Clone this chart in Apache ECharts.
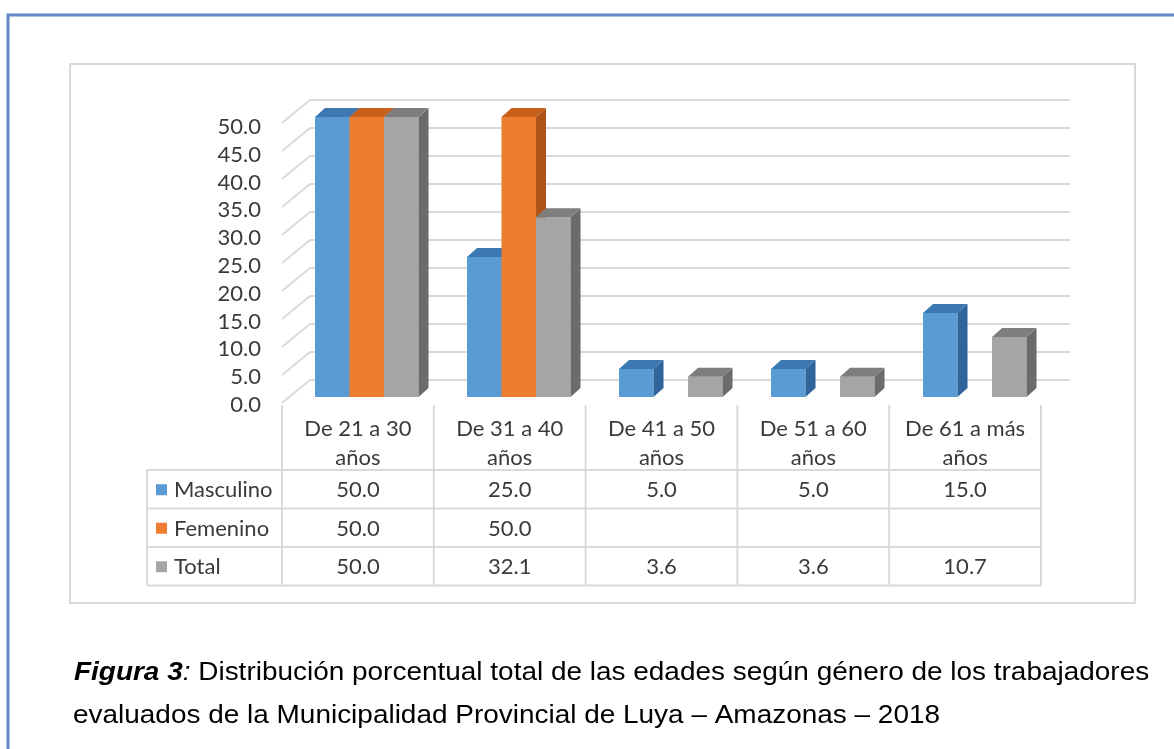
<!DOCTYPE html>
<html><head><meta charset="utf-8">
<script src="https://cdn.jsdelivr.net/npm/echarts@6/dist/echarts.min.js"></script>
<style>html,body{margin:0;padding:0;background:#fff;} #chart{width:1174px;height:749px;}</style>
</head><body><div id="chart"></div>
<script>
const categories = ['De 21 a 30\naños', 'De 31 a 40\naños', 'De 41 a 50\naños', 'De 51 a 60\naños', 'De 61 a más\naños'];
const seriesNames = ['Masculino', 'Femenino', 'Total'];
const masculino = [50.0, 25.0, 5.0, 5.0, 15.0];
const femenino = [50.0, 50.0, null, null, null];
const total = [50.0, 32.1, 3.6, 3.6, 10.7];
const yMin = 0, yMax = 50, yStep = 5;
const yTicks = [0, 5, 10, 15, 20, 25, 30, 35, 40, 45, 50];
const captionLead = 'Figura 3';
const captionLine1 = ' Distribución porcentual total de las edades según género de los trabajadores';
const captionLine2 = 'evaluados de la Municipalidad Provincial de Luya – Amazonas – 2018';

const seriesValues = [masculino, femenino, total];
const colors = [
  {front: '#5b9bd5', top: '#3d78b3', side: '#31659a'},
  {front: '#ed7d31', top: '#c85f1a', side: '#ad5219'},
  {front: '#a5a5a5', top: '#7e7e7e', side: '#6b6b6b'}
];
const FONT = 'Lato';
const FS = 22;
const TXT = '#3a3a3a';
const LINE = '#d9d9d9';
const DEPTH_X = 28, DEPTH_Y = 23;
const BAR_DX = 10, BAR_DY = 9;

function barItem(k) {
  return function (params, api) {
    const i = api.value(0), v = api.value(1);
    if (v == null || isNaN(v)) return null;
    const base = api.coord([i, 0]);
    const top = api.coord([i, v]);
    const band = api.size([1, 0])[0];
    const w = band * 0.227;
    const x = base[0] - band * 0.467 + k * w;
    const yB = base[1] + 17, yT = top[1] + 17;
    const c = colors[k];
    return {type: 'group', children: [
      {type: 'rect', shape: {x: x, y: yT, width: w, height: yB - yT}, style: {fill: c.front}},
      {type: 'polygon', shape: {points: [[x + w, yT], [x + w + BAR_DX, yT - BAR_DY], [x + w + BAR_DX, yB - BAR_DY], [x + w, yB]]}, style: {fill: c.side}},
      {type: 'polygon', shape: {points: [[x, yT], [x + w, yT], [x + w + BAR_DX, yT - BAR_DY], [x + BAR_DX, yT - BAR_DY]]}, style: {fill: c.top}}
    ]};
  };
}

function wallItem(params, api) {
  const y = api.coord([0, api.value(1)])[1];
  const x0 = params.coordSys.x;
  return {type: 'line', shape: {x1: x0 - DEPTH_X, y1: y + DEPTH_Y, x2: x0, y2: y},
    style: {stroke: LINE, lineWidth: 2}};
}

function tableItem(params, api) {
  const i = api.value(0);
  const p = api.coord([i, 0]);
  const band = api.size([1, 0])[0];
  const xl = p[0] - band / 2, xr = p[0] + band / 2;
  const y0 = p[1];
  const rows = [y0 + 65, y0 + 103.5, y0 + 142, y0 + 180.5];
  const ls = {stroke: LINE, lineWidth: 2};
  const ch = [];
  ch.push({type: 'line', shape: {x1: xl, y1: y0, x2: xl, y2: rows[3]}, style: ls});
  if (i === categories.length - 1) ch.push({type: 'line', shape: {x1: xr, y1: y0, x2: xr, y2: rows[3]}, style: ls});
  rows.forEach(function (r) { ch.push({type: 'line', shape: {x1: xl, y1: r, x2: xr, y2: r}, style: ls}); });
  seriesValues.forEach(function (arr, k) {
    const v = arr[i];
    if (v != null) ch.push({type: 'text', style: {text: v.toFixed(1), x: p[0], y: (rows[k] + rows[k + 1]) / 2 + 1,
      align: 'center', verticalAlign: 'middle', fontFamily: FONT, fontSize: FS, fill: TXT}});
  });
  if (i === 0) {
    const xL = xl - 135;
    ch.push({type: 'line', shape: {x1: xL, y1: rows[0], x2: xL, y2: rows[3]}, style: ls});
    rows.forEach(function (r) { ch.push({type: 'line', shape: {x1: xL, y1: r, x2: xl, y2: r}, style: ls}); });
    seriesNames.forEach(function (n, k) {
      const cy = (rows[k] + rows[k + 1]) / 2;
      ch.push({type: 'rect', shape: {x: xL + 9, y: cy - 5, width: 11, height: 11}, style: {fill: colors[k].front}});
      ch.push({type: 'text', style: {text: n, x: xL + 27, y: cy + 1, align: 'left', verticalAlign: 'middle',
        fontFamily: FONT, fontSize: FS, fill: TXT}});
    });
  }
  return {type: 'group', children: ch};
}

const chart = echarts.init(document.getElementById('chart'), null, {renderer: 'canvas'});
const option = {
  animation: false,
  backgroundColor: '#ffffff',
  grid: [
    {left: 310, right: 104, top: 100, height: 280},
    {left: 282, right: 133, top: 127, height: 278}
  ],
  xAxis: [
    {type: 'category', gridIndex: 0, data: categories, show: false},
    {type: 'category', gridIndex: 1, data: categories, axisLine: {show: false}, axisTick: {show: false},
      axisLabel: {interval: 0, fontFamily: FONT, fontSize: FS, color: TXT, lineHeight: 29, margin: 9}}
  ],
  yAxis: [
    {type: 'value', gridIndex: 0, min: yMin, max: yMax, interval: yStep, axisLabel: {show: false},
      axisLine: {show: false}, axisTick: {show: false}, splitLine: {lineStyle: {color: LINE, width: 2}}},
    {type: 'value', gridIndex: 1, min: yMin, max: yMax, interval: yStep, splitLine: {show: false},
      axisLine: {show: false}, axisTick: {show: false},
      axisLabel: {fontFamily: FONT, fontSize: FS, color: TXT, margin: 21, formatter: function (v) { return v.toFixed(1); }}}
  ],
  series: [
    {type: 'custom', name: 'wall', xAxisIndex: 0, yAxisIndex: 0, renderItem: wallItem,
      data: yTicks.map(function (v) { return [0, v]; }), silent: true},
    {type: 'custom', name: seriesNames[0], xAxisIndex: 0, yAxisIndex: 0, renderItem: barItem(0),
      data: masculino.map(function (v, i) { return [i, v]; })},
    {type: 'custom', name: seriesNames[1], xAxisIndex: 0, yAxisIndex: 0, renderItem: barItem(1),
      data: femenino.map(function (v, i) { return [i, v]; })},
    {type: 'custom', name: seriesNames[2], xAxisIndex: 0, yAxisIndex: 0, renderItem: barItem(2),
      data: total.map(function (v, i) { return [i, v]; })},
    {type: 'custom', name: 'table', xAxisIndex: 1, yAxisIndex: 1, renderItem: tableItem,
      data: categories.map(function (c, i) { return [i, 0]; }), silent: true}
  ],
  graphic: [
    {type: 'polyline', shape: {points: [[8, 749], [8, 15], [1174, 15]]}, style: {stroke: '#6487c8', lineWidth: 3, fill: null}, silent: true},
    {type: 'rect', shape: {x: 70, y: 64, width: 1065, height: 539}, style: {fill: null, stroke: LINE, lineWidth: 2}, silent: true},
    {type: 'text', x: 74, y: 673, scaleX: 1.118, silent: true,
      style: {text: '{b|' + captionLead + '}{i|:}{n|' + captionLine1 + '}', x: 0, y: 0, verticalAlign: 'middle',
        rich: {
          b: {fontFamily: '"Liberation Sans", Arial', fontSize: 25, fontWeight: 'bold', fontStyle: 'italic', fill: '#000'},
          i: {fontFamily: '"Liberation Sans", Arial', fontSize: 25, fontStyle: 'italic', fill: '#000'},
          n: {fontFamily: '"Liberation Sans", Arial', fontSize: 25, fill: '#000'}
        }}},
    {type: 'text', x: 73, y: 716, scaleX: 1.118, silent: true,
      style: {text: captionLine2, x: 0, y: 0, verticalAlign: 'middle', fontFamily: '"Liberation Sans", Arial', fontSize: 25, fill: '#000'}}
  ]
};
chart.setOption(option);
</script>
</body></html>
